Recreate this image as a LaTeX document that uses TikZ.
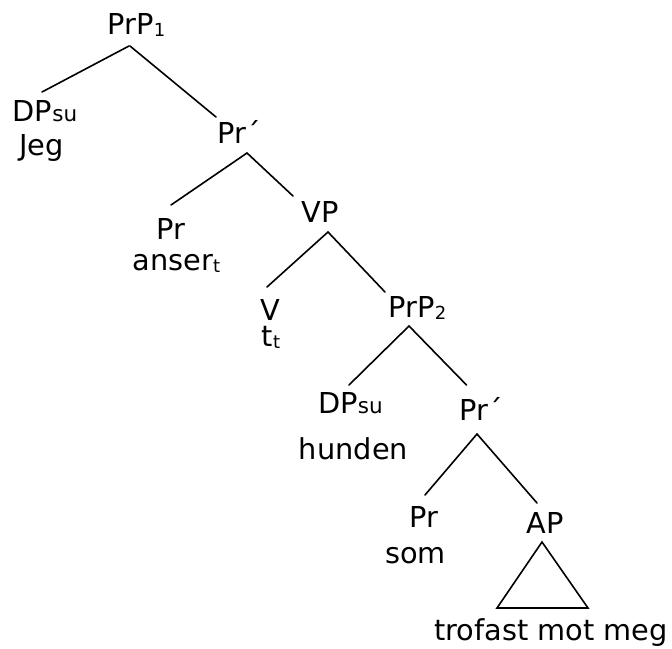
\documentclass[tikz,border=0pt]{standalone}
\usepackage{fontspec}
\setmainfont{DejaVu Sans}
% small lowered index (numbers, trace t) and the smaller "su" tag
\newcommand\treeidx[1]{\raisebox{-2.5pt}{\fontsize{18}{18}\selectfont #1}}
\newcommand\treesu[1]{{\fontsize{21.5}{21.5}\selectfont #1}}
\begin{document}
\begin{tikzpicture}[x=1pt,y=-1pt,
  lbl/.style={inner sep=0pt, outer sep=0pt, anchor=base, font=\fontsize{28.8}{32}\selectfont},
  branch/.style={line width=1.6pt, line cap=round}]
\useasboundingbox (0,0) rectangle (672,648);

% category labels and words
\node[lbl] (prp1)    at (136.5,34)  {PrP\treeidx{1}};
\node[lbl] (dpsu1)   at (45,121)    {DP\treesu{su}};
\node[lbl] (jeg)     at (41.5,155)  {Jeg};
\node[lbl] (pbar1)   at (239,143)   {Pr´};
\node[lbl] (pr1)     at (171,239)   {Pr};
\node[lbl] (anser)   at (176.5,270) {anser\treeidx{t}};
\node[lbl] (vp)      at (320,222)   {VP};
\node[lbl] (v)       at (270,320)   {V};
\node[lbl] (trace)   at (271,346)   {t\treeidx{t}};
\node[lbl] (prp2)    at (417.5,317) {PrP\treeidx{2}};
\node[lbl] (dpsu2)   at (350.5,413) {DP\treesu{su}};
\node[lbl] (hunden)  at (353.5,459) {hunden};
\node[lbl] (pbar2)   at (481,420)   {Pr´};
\node[lbl] (pr2)     at (424,527)   {Pr};
\node[lbl] (som)     at (415.5,563) {som};
\node[lbl] (ap)      at (545,533)   {AP};
\node[lbl] (trofast) at (551,640)   {trofast mot meg};

% branches
\draw[branch] ([shift={(-7.5,12)}]prp1.base) -- ([shift={(-3,-29)}]dpsu1.base);
\draw[branch] ([shift={(-6.5,12)}]prp1.base) -- ([shift={(-23,-26)}]pbar1.base);
\draw[branch] ([shift={(8,10)}]pbar1.base) -- ([shift={(0,-34)}]pr1.base);
\draw[branch] ([shift={(8,10)}]pbar1.base) -- ([shift={(-27,-26)}]vp.base);
\draw[branch] ([shift={(8,10)}]vp.base) -- ([shift={(-3,-33)}]v.base);
\draw[branch] ([shift={(8,10)}]vp.base) -- ([shift={(-32.5,-25)}]prp2.base);
\draw[branch] ([shift={(-8.5,9)}]prp2.base) -- ([shift={(-1.5,-28)}]dpsu2.base);
\draw[branch] ([shift={(-8.5,9)}]prp2.base) -- ([shift={(-14.5,-35)}]pbar2.base);
\draw[branch] ([shift={(-4,14)}]pbar2.base) -- ([shift={(1,-32)}]pr2.base);
\draw[branch] ([shift={(-4,14)}]pbar2.base) -- ([shift={(-8,-30)}]ap.base);

% triangle under AP
\draw[branch, line join=miter] ([shift={(-3,9)}]ap.base) -- ([shift={(-48,75)}]ap.base)
  -- ([shift={(43,75)}]ap.base) -- cycle;
\end{tikzpicture}
\end{document}
